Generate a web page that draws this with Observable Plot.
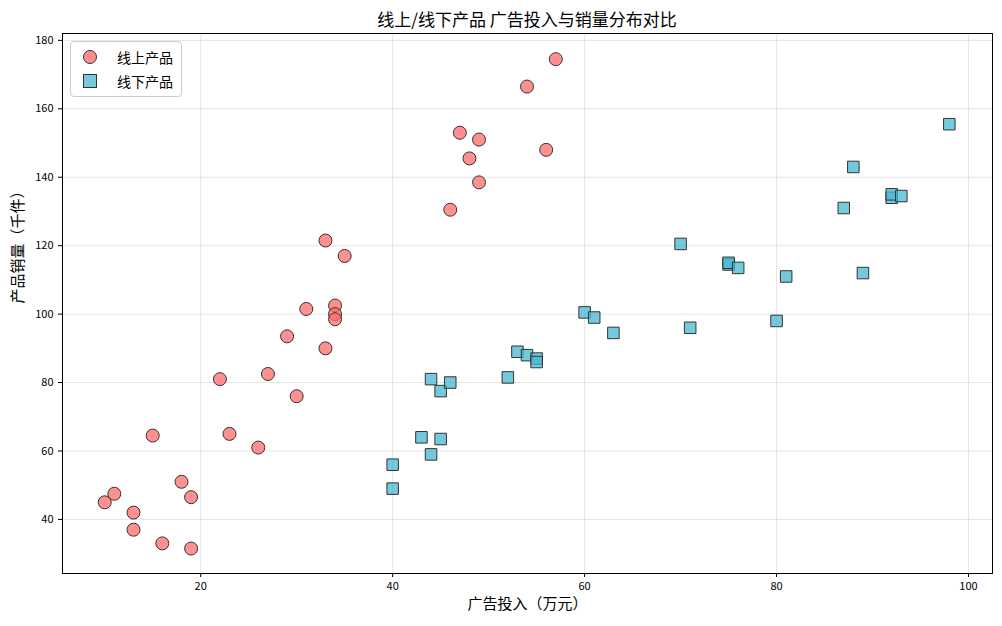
<!DOCTYPE html>
<html><head><meta charset="utf-8">
<script src="https://cdn.jsdelivr.net/npm/d3@7"></script>
<script src="https://cdn.jsdelivr.net/npm/@observablehq/plot@0.6"></script>
<style>
body{margin:0;background:#fff;font-family:"Noto Sans CJK SC",sans-serif;}
#wrap{position:relative;width:1002px;height:626px;}
#title{position:absolute;top:6px;left:62px;width:930px;text-align:center;font-size:17px;}
#legend{position:absolute;left:70px;top:41px;border:1px solid #ccc;border-radius:4px;background:rgba(255,255,255,0.85);padding:3px 8px;font-size:14px;line-height:24px;}
#legend span.m{display:inline-block;width:12px;height:12px;border:1px solid #333;margin:0 20px -1px 4px;}
</style></head><body>
<div id="wrap"><div id="title">线上/线下产品 广告投入与销量分布对比</div>
<div id="legend"><div><span class="m" style="border-radius:50%;background:rgba(255,107,107,0.75)"></span>线上产品</div><div><span class="m" style="background:rgba(69,183,209,0.75)"></span>线下产品</div></div>
<div id="chart"></div></div>
<script>
const onlineX=[10,11,13,13,15,16,18,19,19,22,23,26,27,29,30,31,33,33,34,34,34,35,46,47,48,49,49,54,56,57];
const onlineY=[45,47.5,42,37,64.5,33,51,46.5,31.5,81,65,61,82.5,93.5,76,101.5,121.5,90,102.5,100,98.5,117,130.5,153,145.5,151,138.5,166.5,148,174.5];
const offlineX=[40,40,43,44,44,45,45,46,52,53,54,55,55,60,61,63,70,71,75,75,76,80,81,87,88,89,92,92,93,98];
const offlineY=[56,49,64,81,59,77.5,63.5,80,81.5,89,88,87,86,100.5,99,94.5,120.5,96,114.5,115,113.5,98,111,131,143,112,134,135,134.5,155.5];
const on=onlineX.map((x,i)=>({x,y:onlineY[i]}));
const off=offlineX.map((x,i)=>({x,y:offlineY[i]}));
const p=Plot.plot({width:1002,height:626,marginLeft:62,marginRight:10,marginTop:33,marginBottom:53,
 style:{fontFamily:"Noto Sans CJK SC",fontSize:"11px",color:"#000"},
 x:{domain:[5.6,102.5],ticks:[20,40,60,80,100]},
 y:{domain:[24.2,182],ticks:[40,60,80,100,120,140,160,180]},
 marks:[
  Plot.gridX({ticks:[20,40,60,80,100],stroke:"#000",strokeOpacity:0.1}),
  Plot.gridY({ticks:[40,60,80,100,120,140,160,180],stroke:"#000",strokeOpacity:0.1}),
  Plot.frame({stroke:"#000"}),
  Plot.axisX({ticks:[20,40,60,80,100],label:null,tickSize:4}),
  Plot.axisY({ticks:[40,60,80,100,120,140,160,180],label:null,tickSize:4}),
  Plot.dot(on,{x:"x",y:"y",r:6.5,fill:"#FF6B6B",fillOpacity:0.75,stroke:"#333",strokeWidth:1}),
  Plot.dot(off,{x:"x",y:"y",r:6.5,symbol:"square",fill:"#45B7D1",fillOpacity:0.75,stroke:"#333",strokeWidth:1}),
  Plot.text(["广告投入（万元）"],{frameAnchor:"bottom",dy:35,fontSize:15}),
  Plot.text(["产品销量（千件）"],{frameAnchor:"left",dx:-44,rotate:-90,fontSize:15})
 ]});
document.getElementById("chart").appendChild(p);
</script></body></html>
